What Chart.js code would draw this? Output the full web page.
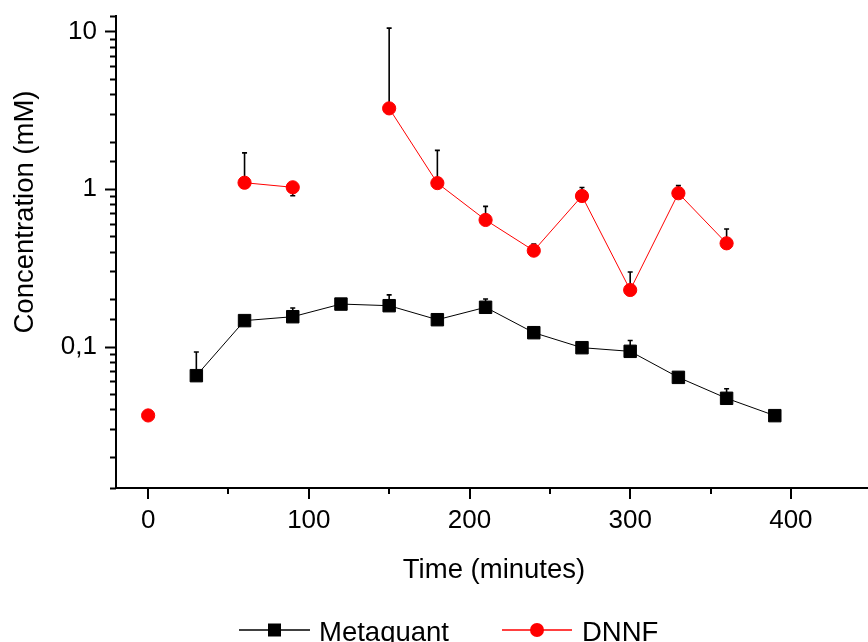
<!DOCTYPE html>
<html>
<head>
<meta charset="utf-8">
<title>Concentration vs time</title>
<script src="https://cdn.jsdelivr.net/npm/chart.js@4/dist/chart.umd.min.js"></script>
<style>
    body { margin: 0; background: #fff; }
    canvas { display: block; }
</style>
</head>
<body>
<canvas id="chart" width="868" height="642"></canvas>
<script>
// time points (minutes)
var metaTime = [30, 60, 90, 120, 150, 180, 210, 240, 270, 300, 330, 360, 390];
var dnnfTime = [0, 30, 60, 90, 120, 150, 180, 210, 240, 270, 300, 330, 360];

// concentrations (mM), null = no measurement
var metaConc = [0.0653, 0.146, 0.1546, 0.186, 0.1816, 0.148, 0.1774, 0.1224, 0.0983, 0.0932, 0.0637, 0.0469, 0.0364];
var dnnfConc = [0.0365, null, 1.096, 1.025, null, 3.25, 1.09, 0.636, 0.406, 0.903, 0.2285, 0.94, 0.452];

// error bars (mM)
var metaErrUp = [0.027, null, 0.021, null, 0.031, null, 0.023, 0.011, null, 0.016, null, 0.007, null];
var dnnfErrUp = [null, null, 0.60, null, null, 7.25, 0.67, 0.14, 0.042, 0.12, 0.069, 0.11, 0.105];
var dnnfErrDown = [null, null, null, 0.118, null, null, null, null, null, null, null, null, null];

var yLabelValues = [0.1, 1, 10];
var xRange = [-20, 448];
var yRange = [0.01264, 12.54];

var FONT = "'Liberation Sans', Arial, sans-serif";

function toPoints(xs, ys) {
    return xs.map(function (x, i) { return {x: x, y: ys[i]}; });
}

// small vertical error bars with caps, drawn behind the markers
var errorBars = {
    id: 'errorBars',
    beforeDatasetsDraw: function (chart) {
        var ctx = chart.ctx,
                xs = chart.scales.x,
                ys = chart.scales.y;
        var sets = [
            {t: metaTime, v: metaConc, up: metaErrUp, down: null},
            {t: dnnfTime, v: dnnfConc, up: dnnfErrUp, down: dnnfErrDown}
        ];
        ctx.save();
        ctx.strokeStyle = '#000';
        ctx.lineWidth = 1.6;
        sets.forEach(function (s) {
            s.t.forEach(function (t, i) {
                if (s.v[i] == null)
                    return;
                var px = xs.getPixelForValue(t),
                        py = ys.getPixelForValue(s.v[i]);
                var ends = [];
                if (s.up && s.up[i] != null)
                    ends.push(ys.getPixelForValue(s.v[i] + s.up[i]));
                if (s.down && s.down[i] != null)
                    ends.push(ys.getPixelForValue(s.v[i] - s.down[i]));
                ends.forEach(function (ey) {
                    ctx.beginPath();
                    ctx.moveTo(px, py);
                    ctx.lineTo(px, ey);
                    ctx.moveTo(px - 2.5, ey);
                    ctx.lineTo(px + 2.5, ey);
                    ctx.stroke();
                });
            });
        });
        ctx.restore();
    }
};

// outside tick marks, long for labelled ticks and short for the rest
var axisTicks = {
    id: 'axisTicks',
    afterDraw: function (chart) {
        var ctx = chart.ctx,
                area = chart.chartArea,
                xs = chart.scales.x,
                ys = chart.scales.y;
        ctx.save();
        ctx.strokeStyle = '#000';
        ctx.lineWidth = 2;
        ctx.beginPath();
        xs.ticks.forEach(function (tk) {
            var px = Math.round(xs.getPixelForValue(tk.value));
            var len = tk.value % 100 === 0 ? 11 : 6;
            ctx.moveTo(px, area.bottom);
            ctx.lineTo(px, area.bottom + len);
        });
        ys.ticks.forEach(function (tk) {
            if (tk.value < yRange[0] || tk.value > yRange[1])
                return;
            var py = Math.round(ys.getPixelForValue(tk.value)) + 0.5;
            var major = yLabelValues.some(function (v) { return Math.abs(v - tk.value) < v * 1e-6; });
            ctx.moveTo(area.left, py);
            ctx.lineTo(area.left - (major ? 11 : 6), py);
        });
        ctx.stroke();
        ctx.restore();
    }
};

// axis titles and the legend row underneath
var titlesAndLegend = {
    id: 'titlesAndLegend',
    afterDraw: function (chart) {
        var ctx = chart.ctx;
        ctx.save();
        ctx.fillStyle = '#000';
        ctx.font = '27.5px ' + FONT;
        ctx.textAlign = 'center';
        ctx.textBaseline = 'alphabetic';
        ctx.fillText('Time (minutes)', 494, 578);

        ctx.save();
        ctx.translate(33, 212);
        ctx.rotate(-Math.PI / 2);
        ctx.fillText('Concentration (mM)', 0, 0);
        ctx.restore();

        var items = [
            {label: chart.data.datasets[0].label, color: '#000', shape: 'rect', x0: 239, x1: 310, tx: 319},
            {label: chart.data.datasets[1].label, color: '#ff0000', shape: 'circle', x0: 502, x1: 572, tx: 582}
        ];
        var ly = 630;
        items.forEach(function (it) {
            ctx.strokeStyle = it.color;
            ctx.fillStyle = it.color;
            ctx.lineWidth = 1.5;
            ctx.beginPath();
            ctx.moveTo(it.x0, ly);
            ctx.lineTo(it.x1, ly);
            ctx.stroke();
            var cx = (it.x0 + it.x1) / 2;
            ctx.beginPath();
            if (it.shape === 'rect')
                ctx.rect(cx - 6.5, ly - 6.5, 13, 13);
            else
                ctx.arc(cx, ly, 7, 0, Math.PI * 2);
            ctx.fill();
            ctx.fillStyle = '#000';
            ctx.textAlign = 'left';
            ctx.fillText(it.label, it.tx, 640.5);
        });
        ctx.restore();
    }
};

function noLabelPadding(scale) {
    scale.paddingTop = 0;
    scale.paddingBottom = 0;
    scale.paddingLeft = 0;
    scale.paddingRight = 0;
}

var ctx = document.getElementById('chart').getContext('2d');
var chart = new Chart(ctx, {
    type: 'line',
    data: {
        datasets: [
            {
                label: 'Metaquant',
                data: toPoints(metaTime, metaConc),
                borderColor: '#000',
                backgroundColor: '#000',
                borderWidth: 1,
                pointStyle: 'rect',
                pointRadius: 8.8,
                pointBorderWidth: 1,
                pointHoverRadius: 8.8
            },
            {
                label: 'DNNF',
                data: toPoints(dnnfTime, dnnfConc),
                borderColor: '#ff0000',
                backgroundColor: '#ff0000',
                borderWidth: 1,
                pointStyle: 'circle',
                pointRadius: 6.6,
                pointBorderWidth: 1,
                pointHoverRadius: 6.6,
                spanGaps: false
            }
        ]
    },
    options: {
        responsive: false,
        animation: false,
        clip: false,
        layout: {autoPadding: false, padding: {top: 16, right: 0, left: 0, bottom: 0}},
        plugins: {
            legend: {display: false},
            tooltip: {enabled: false}
        },
        scales: {
            x: {
                type: 'linear',
                min: xRange[0],
                max: xRange[1],
                afterFit: function (scale) {
                    scale.height = 154;
                    noLabelPadding(scale);
                },
                grid: {display: true, drawOnChartArea: false, drawTicks: false},
                border: {display: true, color: '#000', width: 2},
                ticks: {
                    stepSize: 50,
                    includeBounds: false,
                    autoSkip: false,
                    maxRotation: 0,
                    padding: 17,
                    color: '#000',
                    font: {family: FONT, size: 26},
                    callback: function (value) {
                        return value % 100 === 0 ? String(value) : '';
                    }
                }
            },
            y: {
                type: 'logarithmic',
                min: yRange[0],
                max: yRange[1],
                afterFit: function (scale) {
                    scale.width = 116;
                    noLabelPadding(scale);
                },
                grid: {display: true, drawOnChartArea: false, drawTicks: false},
                border: {display: true, color: '#000', width: 2},
                ticks: {
                    autoSkip: false,
                    padding: 19,
                    color: '#000',
                    font: {family: FONT, size: 26},
                    callback: function (value) {
                        var v = Number(value);
                        var hit = yLabelValues.some(function (l) { return Math.abs(l - v) < l * 1e-6; });
                        return hit ? String(v).replace('.', ',') : '';
                    }
                }
            }
        }
    },
    plugins: [errorBars, axisTicks, titlesAndLegend]
});
</script>
</body>
</html>
